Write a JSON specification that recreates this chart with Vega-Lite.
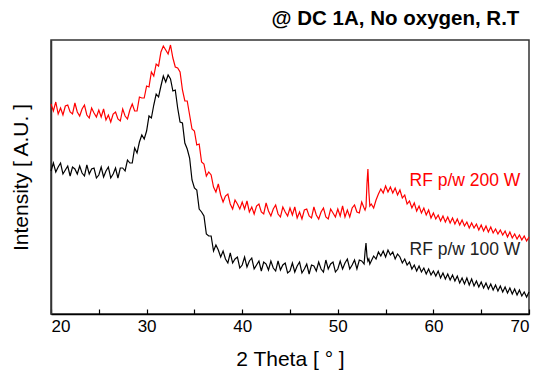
{
  "$schema": "https://vega.github.io/schema/vega-lite/v6.json",
  "autosize": "none",
  "width": 478,
  "height": 274,
  "padding": {"left": 51, "top": 40, "right": 11, "bottom": 62},
  "background": "white",
  "config": {
    "font": "Liberation Sans",
    "view": {"stroke": "#333333", "strokeWidth": 1.5},
    "axis": {"labelFont": "Liberation Sans", "titleFont": "Liberation Sans", "titleFontWeight": "normal", "labelColor": "#000", "titleColor": "#000"}
  },
  "title": {
    "text": "@ DC 1A, No oxygen, R.T",
    "anchor": "end",
    "font": "Liberation Sans",
    "fontSize": 20.5,
    "fontWeight": "bold",
    "color": "#000",
    "offset": 11,
    "dx": -12
  },
  "datasets": {
    "xrd": [
      {"two_theta":20.0,"rf200":210,"rf100":143},{"two_theta":20.25,"rf200":203,"rf100":151},{"two_theta":20.5,"rf200":212,"rf100":142},{"two_theta":20.75,"rf200":200,"rf100":147},
      {"two_theta":21.0,"rf200":206,"rf100":151},{"two_theta":21.25,"rf200":199,"rf100":140},{"two_theta":21.5,"rf200":208,"rf100":144},{"two_theta":21.75,"rf200":209,"rf100":148},
      {"two_theta":22.0,"rf200":202,"rf100":138},{"two_theta":22.25,"rf200":200,"rf100":147},{"two_theta":22.5,"rf200":211,"rf100":145},{"two_theta":22.75,"rf200":202,"rf100":140},
      {"two_theta":23.0,"rf200":198,"rf100":148},{"two_theta":23.25,"rf200":205,"rf100":141},{"two_theta":23.5,"rf200":209,"rf100":138},{"two_theta":23.75,"rf200":199,"rf100":149},
      {"two_theta":24.0,"rf200":196,"rf100":140},{"two_theta":24.25,"rf200":206,"rf100":145},{"two_theta":24.5,"rf200":201,"rf100":146},{"two_theta":24.75,"rf200":197,"rf100":136},
      {"two_theta":25.0,"rf200":204,"rf100":139},{"two_theta":25.25,"rf200":197,"rf100":147},{"two_theta":25.5,"rf200":205,"rf100":137},{"two_theta":25.75,"rf200":194,"rf100":143},
      {"two_theta":26.0,"rf200":199,"rf100":147},{"two_theta":26.25,"rf200":192,"rf100":136},{"two_theta":26.5,"rf200":200,"rf100":140},{"two_theta":26.75,"rf200":202,"rf100":146},
      {"two_theta":27.0,"rf200":195,"rf100":136},{"two_theta":27.25,"rf200":193,"rf100":146},{"two_theta":27.5,"rf200":205,"rf100":146},{"two_theta":27.75,"rf200":198,"rf100":143},
      {"two_theta":28.0,"rf200":195,"rf100":154},{"two_theta":28.25,"rf200":204,"rf100":151},{"two_theta":28.5,"rf200":210,"rf100":151},{"two_theta":28.75,"rf200":203,"rf100":166},
      {"two_theta":29.0,"rf200":203,"rf100":161},{"two_theta":29.25,"rf200":217,"rf100":172},{"two_theta":29.5,"rf200":216,"rf100":179},{"two_theta":29.75,"rf200":216,"rf100":175},
      {"two_theta":30.0,"rf200":228,"rf100":183},{"two_theta":30.25,"rf200":227,"rf100":198},{"two_theta":30.5,"rf200":242,"rf100":196},{"two_theta":30.75,"rf200":238,"rf100":209},
      {"two_theta":31.0,"rf200":250,"rf100":220},{"two_theta":31.25,"rf200":248,"rf100":217},{"two_theta":31.5,"rf200":262,"rf100":228},{"two_theta":31.75,"rf200":268,"rf100":238},
      {"two_theta":32.0,"rf200":264,"rf100":232},{"two_theta":32.25,"rf200":260,"rf100":239},{"two_theta":32.5,"rf200":269,"rf100":235},{"two_theta":32.75,"rf200":256,"rf100":223},
      {"two_theta":33.0,"rf200":247,"rf100":224},{"two_theta":33.25,"rf200":246,"rf100":206},{"two_theta":33.5,"rf200":242,"rf100":192},{"two_theta":33.75,"rf200":224,"rf100":191},
      {"two_theta":34.0,"rf200":213,"rf100":171},{"two_theta":34.25,"rf200":213,"rf100":165},{"two_theta":34.5,"rf200":199,"rf100":156},{"two_theta":34.75,"rf200":185,"rf100":134},
      {"two_theta":35.0,"rf200":183,"rf100":126},{"two_theta":35.25,"rf200":169,"rf100":124},{"two_theta":35.5,"rf200":170,"rf100":105},{"two_theta":35.75,"rf200":152,"rf100":102},
      {"two_theta":36.0,"rf200":150,"rf100":98},{"two_theta":36.25,"rf200":138,"rf100":80},{"two_theta":36.5,"rf200":142,"rf100":78},{"two_theta":36.75,"rf200":139,"rf100":78},
      {"two_theta":37.0,"rf200":127,"rf100":63},{"two_theta":37.25,"rf200":122,"rf100":69},{"two_theta":37.5,"rf200":130,"rf100":64},{"two_theta":37.75,"rf200":119,"rf100":57},
      {"two_theta":38.0,"rf200":112,"rf100":63},{"two_theta":38.25,"rf200":118,"rf100":55},{"two_theta":38.5,"rf200":120,"rf100":51},{"two_theta":38.75,"rf200":110,"rf100":61},
      {"two_theta":39.0,"rf200":105,"rf100":51},{"two_theta":39.25,"rf200":114,"rf100":55},{"two_theta":39.5,"rf200":110,"rf100":57},{"two_theta":39.75,"rf200":105,"rf100":46},
      {"two_theta":40.0,"rf200":112,"rf100":49},{"two_theta":40.25,"rf200":105,"rf100":57},{"two_theta":40.5,"rf200":113,"rf100":47},{"two_theta":40.75,"rf200":102,"rf100":53},
      {"two_theta":41.0,"rf200":107,"rf100":56},{"two_theta":41.25,"rf200":100,"rf100":45},{"two_theta":41.5,"rf200":108,"rf100":49},{"two_theta":41.75,"rf200":110,"rf100":53},
      {"two_theta":42.0,"rf200":102,"rf100":43},{"two_theta":42.25,"rf200":100,"rf100":52},{"two_theta":42.5,"rf200":111,"rf100":50},{"two_theta":42.75,"rf200":103,"rf100":44},
      {"two_theta":43.0,"rf200":98,"rf100":53},{"two_theta":43.25,"rf200":105,"rf100":46},{"two_theta":43.5,"rf200":109,"rf100":43},{"two_theta":43.75,"rf200":100,"rf100":53},
      {"two_theta":44.0,"rf200":97,"rf100":44},{"two_theta":44.25,"rf200":107,"rf100":49},{"two_theta":44.5,"rf200":102,"rf100":51},{"two_theta":44.75,"rf200":98,"rf100":41},
      {"two_theta":45.0,"rf200":106,"rf100":43},{"two_theta":45.25,"rf200":99,"rf100":51},{"two_theta":45.5,"rf200":107,"rf100":42},{"two_theta":45.75,"rf200":96,"rf100":48},
      {"two_theta":46.0,"rf200":102,"rf100":52},{"two_theta":46.25,"rf200":95,"rf100":41},{"two_theta":46.5,"rf200":104,"rf100":45},{"two_theta":46.75,"rf200":105,"rf100":50},
      {"two_theta":47.0,"rf200":98,"rf100":40},{"two_theta":47.25,"rf200":96,"rf100":49},{"two_theta":47.5,"rf200":107,"rf100":48},{"two_theta":47.75,"rf200":99,"rf100":43},
      {"two_theta":48.0,"rf200":95,"rf100":52},{"two_theta":48.25,"rf200":102,"rf100":45},{"two_theta":48.5,"rf200":106,"rf100":42},{"two_theta":48.75,"rf200":97,"rf100":54},
      {"two_theta":49.0,"rf200":95,"rf100":45},{"two_theta":49.25,"rf200":105,"rf100":50},{"two_theta":49.5,"rf200":101,"rf100":52},{"two_theta":49.75,"rf200":97,"rf100":42},
      {"two_theta":50.0,"rf200":105,"rf100":45},{"two_theta":50.25,"rf200":98,"rf100":53},{"two_theta":50.5,"rf200":108,"rf100":45},{"two_theta":50.75,"rf200":97,"rf100":51},
      {"two_theta":51.0,"rf200":104,"rf100":55},{"two_theta":51.25,"rf200":97,"rf100":45},{"two_theta":51.5,"rf200":106,"rf100":49},{"two_theta":51.75,"rf200":109,"rf100":54},
      {"two_theta":52.0,"rf200":102,"rf100":45},{"two_theta":52.25,"rf200":101,"rf100":54},{"two_theta":52.5,"rf200":112,"rf100":53},{"two_theta":52.75,"rf200":106,"rf100":50},
      {"two_theta":52.85,"rf200":104,"rf100":62},{"two_theta":52.95,"rf200":107,"rf100":71},{"two_theta":53.05,"rf200":130,"rf100":58},{"two_theta":53.15,"rf200":145,"rf100":53},
      {"two_theta":53.25,"rf200":122,"rf100":55},{"two_theta":53.35,"rf200":108,"rf100":50},{"two_theta":53.5,"rf200":110,"rf100":53},{"two_theta":53.75,"rf200":106,"rf100":58},
      {"two_theta":54.0,"rf200":114,"rf100":55},{"two_theta":54.25,"rf200":120,"rf100":62},{"two_theta":54.5,"rf200":125,"rf100":58},{"two_theta":54.75,"rf200":121,"rf100":63},
      {"two_theta":55.0,"rf200":128,"rf100":57},{"two_theta":55.25,"rf200":122,"rf100":64},{"two_theta":55.5,"rf200":127,"rf100":59},{"two_theta":55.75,"rf200":121,"rf100":62},
      {"two_theta":56.0,"rf200":126,"rf100":55},{"two_theta":56.25,"rf200":119,"rf100":60},{"two_theta":56.5,"rf200":124,"rf100":57},{"two_theta":56.75,"rf200":116,"rf100":51},
      {"two_theta":57.0,"rf200":119,"rf100":55},{"two_theta":57.25,"rf200":110,"rf100":49},{"two_theta":57.5,"rf200":113,"rf100":52},{"two_theta":57.75,"rf200":106,"rf100":45},
      {"two_theta":58.0,"rf200":111,"rf100":49},{"two_theta":58.25,"rf200":103,"rf100":43},{"two_theta":58.5,"rf200":108,"rf100":48},{"two_theta":58.75,"rf200":101,"rf100":42},
      {"two_theta":59.0,"rf200":106,"rf100":46},{"two_theta":59.25,"rf200":99,"rf100":40},{"two_theta":59.5,"rf200":104,"rf100":45},{"two_theta":59.75,"rf200":96,"rf100":39},
      {"two_theta":60.0,"rf200":101,"rf100":43},{"two_theta":60.25,"rf200":95,"rf100":38},{"two_theta":60.5,"rf200":99,"rf100":43},{"two_theta":60.75,"rf200":93,"rf100":36},
      {"two_theta":61.0,"rf200":98,"rf100":41},{"two_theta":61.25,"rf200":92,"rf100":35},{"two_theta":61.5,"rf200":97,"rf100":40},{"two_theta":61.75,"rf200":91,"rf100":34},
      {"two_theta":62.0,"rf200":96,"rf100":39},{"two_theta":62.25,"rf200":90,"rf100":33},{"two_theta":62.5,"rf200":95,"rf100":38},{"two_theta":62.75,"rf200":89,"rf100":31},
      {"two_theta":63.0,"rf200":94,"rf100":36},{"two_theta":63.25,"rf200":88,"rf100":30},{"two_theta":63.5,"rf200":92,"rf100":36},{"two_theta":63.75,"rf200":86,"rf100":29},
      {"two_theta":64.0,"rf200":91,"rf100":35},{"two_theta":64.25,"rf200":86,"rf100":28},{"two_theta":64.5,"rf200":90,"rf100":33},{"two_theta":64.75,"rf200":84,"rf100":27},
      {"two_theta":65.0,"rf200":89,"rf100":32},{"two_theta":65.25,"rf200":83,"rf100":26},{"two_theta":65.5,"rf200":88,"rf100":31},{"two_theta":65.75,"rf200":82,"rf100":25},
      {"two_theta":66.0,"rf200":87,"rf100":30},{"two_theta":66.25,"rf200":81,"rf100":24},{"two_theta":66.5,"rf200":85,"rf100":29},{"two_theta":66.75,"rf200":80,"rf100":23},
      {"two_theta":67.0,"rf200":84,"rf100":28},{"two_theta":67.25,"rf200":79,"rf100":22},{"two_theta":67.5,"rf200":83,"rf100":27},{"two_theta":67.75,"rf200":77,"rf100":21},
      {"two_theta":68.0,"rf200":82,"rf100":26},{"two_theta":68.25,"rf200":76,"rf100":20},{"two_theta":68.5,"rf200":80,"rf100":25},{"two_theta":68.75,"rf200":75,"rf100":19},
      {"two_theta":69.0,"rf200":79,"rf100":24},{"two_theta":69.25,"rf200":74,"rf100":18},{"two_theta":69.5,"rf200":78,"rf100":22},{"two_theta":69.75,"rf200":73,"rf100":17},
      {"two_theta":70.0,"rf200":77,"rf100":22}
    ],
    "labels": [
      {"two_theta": 69.1, "intensity": 133, "label": "RF p/w 200 W", "series": "200"},
      {"two_theta": 69.1, "intensity": 64, "label": "RF p/w 100 W", "series": "100"}
    ]
  },
  "layer": [
    {
      "data": {"name": "xrd"},
      "mark": {"type": "line", "color": "#ff0000", "strokeWidth": 1.2, "interpolate": "linear"},
      "encoding": {
        "x": {
          "field": "two_theta", "type": "quantitative",
          "scale": {"domain": [20, 70], "nice": false, "zero": false},
          "axis": {
            "title": "2 Theta [ ° ]",
            "titleFontSize": 21,
            "titlePadding": 14,
            "values": [20, 25, 30, 35, 40, 45, 50, 55, 60, 65, 70],
            "labelExpr": "datum.value % 10 == 0 ? datum.label : ''",
            "labelFontSize": 17,
            "labelPadding": 9,
            "tickSize": -5,
            "tickColor": "#000",
            "tickWidth": 1.2,
            "domainColor": "#000",
            "domainWidth": 1.5,
            "grid": false
          }
        },
        "y": {
          "field": "rf200", "type": "quantitative",
          "scale": {"domain": [0, 274], "nice": false},
          "axis": {
            "title": "Intensity [ A.U. ]",
            "titleFontSize": 21,
            "titlePadding": 20,
            "labels": false,
            "ticks": false,
            "grid": false,
            "domainColor": "#333",
            "domainWidth": 1.5
          }
        }
      }
    },
    {
      "data": {"name": "xrd"},
      "mark": {"type": "line", "color": "#000000", "strokeWidth": 1.2, "interpolate": "linear"},
      "encoding": {
        "x": {"field": "two_theta", "type": "quantitative"},
        "y": {"field": "rf100", "type": "quantitative"}
      }
    },
    {
      "data": {"name": "labels"},
      "mark": {"type": "text", "align": "right", "baseline": "middle", "fontSize": 17.5, "font": "Liberation Sans"},
      "encoding": {
        "x": {"field": "two_theta", "type": "quantitative"},
        "y": {"field": "intensity", "type": "quantitative"},
        "text": {"field": "label"},
        "color": {"field": "series", "type": "nominal", "scale": {"domain": ["200", "100"], "range": ["#ff0000", "#222222"]}, "legend": null}
      }
    }
  ]
}
